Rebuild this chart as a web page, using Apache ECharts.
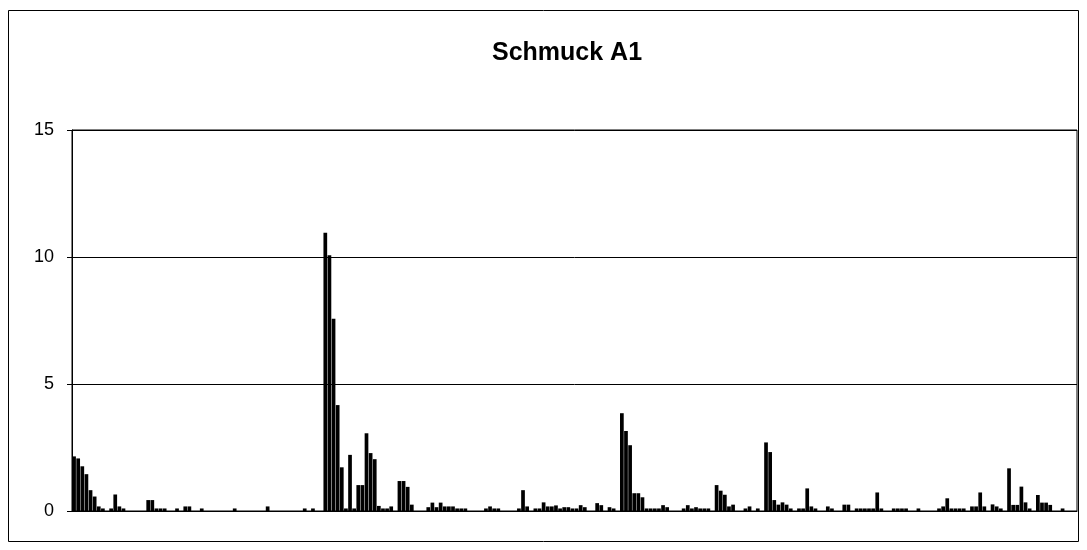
<!DOCTYPE html>
<html>
<head>
<meta charset="utf-8">
<script src="https://cdn.jsdelivr.net/npm/echarts@6/dist/echarts.min.js"></script>
<style>
  html, body { margin: 0; padding: 0; background: #fff; }
  #chart { width: 1087px; height: 550px; }
</style>
</head>
<body>
<div id="chart"></div>
<script>
// values, one per bar (244 bars)
const values = [
  2.15, 2.07, 1.76, 1.45, 0.82, 0.57, 0.18, 0.1, 0, 0.1,
  0.65, 0.18, 0.1, 0, 0, 0, 0, 0, 0.43, 0.43,
  0.1, 0.1, 0.1, 0, 0, 0.1, 0, 0.18, 0.18, 0,
  0, 0.1, 0, 0, 0, 0, 0, 0, 0, 0.1,
  0, 0, 0, 0, 0, 0, 0, 0.18, 0, 0,
  0, 0, 0, 0, 0, 0, 0.1, 0, 0.1, 0,
  0, 10.95, 10.07, 7.57, 4.17, 1.72, 0.1, 2.21, 0.1, 1.02,
  1.02, 3.06, 2.28, 2.04, 0.2, 0.1, 0.1, 0.18, 0, 1.18,
  1.18, 0.95, 0.25, 0, 0, 0, 0.15, 0.33, 0.15, 0.33,
  0.18, 0.18, 0.18, 0.1, 0.1, 0.1, 0, 0, 0, 0,
  0.1, 0.18, 0.1, 0.1, 0, 0, 0, 0, 0.1, 0.82,
  0.18, 0, 0.1, 0.1, 0.34, 0.18, 0.18, 0.22, 0.1, 0.15,
  0.15, 0.1, 0.1, 0.23, 0.15, 0, 0, 0.31, 0.23, 0,
  0.15, 0.1, 0, 3.85, 3.15, 2.59, 0.7, 0.7, 0.54, 0.1,
  0.1, 0.1, 0.1, 0.23, 0.15, 0, 0, 0, 0.1, 0.23,
  0.1, 0.15, 0.1, 0.1, 0.1, 0, 1.02, 0.8, 0.64, 0.18,
  0.25, 0, 0, 0.1, 0.18, 0, 0.1, 0, 2.7, 2.32,
  0.43, 0.25, 0.34, 0.25, 0.1, 0, 0.1, 0.1, 0.89, 0.18,
  0.1, 0, 0, 0.18, 0.1, 0, 0, 0.25, 0.25, 0,
  0.1, 0.1, 0.1, 0.1, 0.1, 0.73, 0.1, 0, 0, 0.1,
  0.1, 0.1, 0.1, 0, 0, 0.1, 0, 0, 0, 0,
  0.1, 0.18, 0.5, 0.1, 0.1, 0.1, 0.1, 0, 0.18, 0.18,
  0.73, 0.18, 0, 0.26, 0.18, 0.1, 0, 1.68, 0.24, 0.24,
  0.96, 0.34, 0.1, 0, 0.63, 0.33, 0.33, 0.24, 0, 0,
  0.1, 0, 0, 0
]
// unlabeled category axis, just sample numbers
const categories = values.map((v, i) => String(i + 1))
const yTicks = [0, 5, 10, 15]

const chart = echarts.init(document.getElementById('chart'), null, { renderer: 'canvas' })

const option = {
  backgroundColor: '#fff',
  animation: false,
  title: {
    text: 'Schmuck A1',
    left: 487,
    top: 36,
    textStyle: {
      fontFamily: 'Liberation Sans, Arial, sans-serif',
      fontSize: 25,
      fontWeight: 'bold',
      color: '#000',
    },
  },
  graphic: [
    {
      type: 'rect',
      shape: { x: 8.5, y: 10.5, width: 1070, height: 531 },
      style: { fill: 'none', stroke: '#000', lineWidth: 1 },
      silent: true,
    },
  ],
  grid: {
    left: 72,
    top: 130,
    right: 10,
    bottom: 39,
    show: true,
    borderColor: '#000',
    borderWidth: 1,
  },
  xAxis: {
    type: 'category',
    data: categories,
    axisLine: { lineStyle: { color: '#000', width: 1 } },
    axisTick: { show: false },
    axisLabel: { show: false },
  },
  yAxis: {
    type: 'value',
    min: yTicks[0],
    max: yTicks[yTicks.length - 1],
    interval: 5,
    axisLine: { show: true, lineStyle: { color: '#000', width: 1 } },
    axisTick: { show: true, length: 5, lineStyle: { color: '#000' } },
    axisLabel: {
      color: '#000',
      fontFamily: 'Liberation Sans, Arial, sans-serif',
      fontSize: 18,
      margin: 18,
    },
    splitLine: { lineStyle: { color: '#000', width: 1 } },
  },
  series: [
    {
      type: 'bar',
      data: values,
      barCategoryGap: '10%',
      itemStyle: { color: '#000' },
    },
  ],
}

option && chart.setOption(option)
</script>
</body>
</html>
